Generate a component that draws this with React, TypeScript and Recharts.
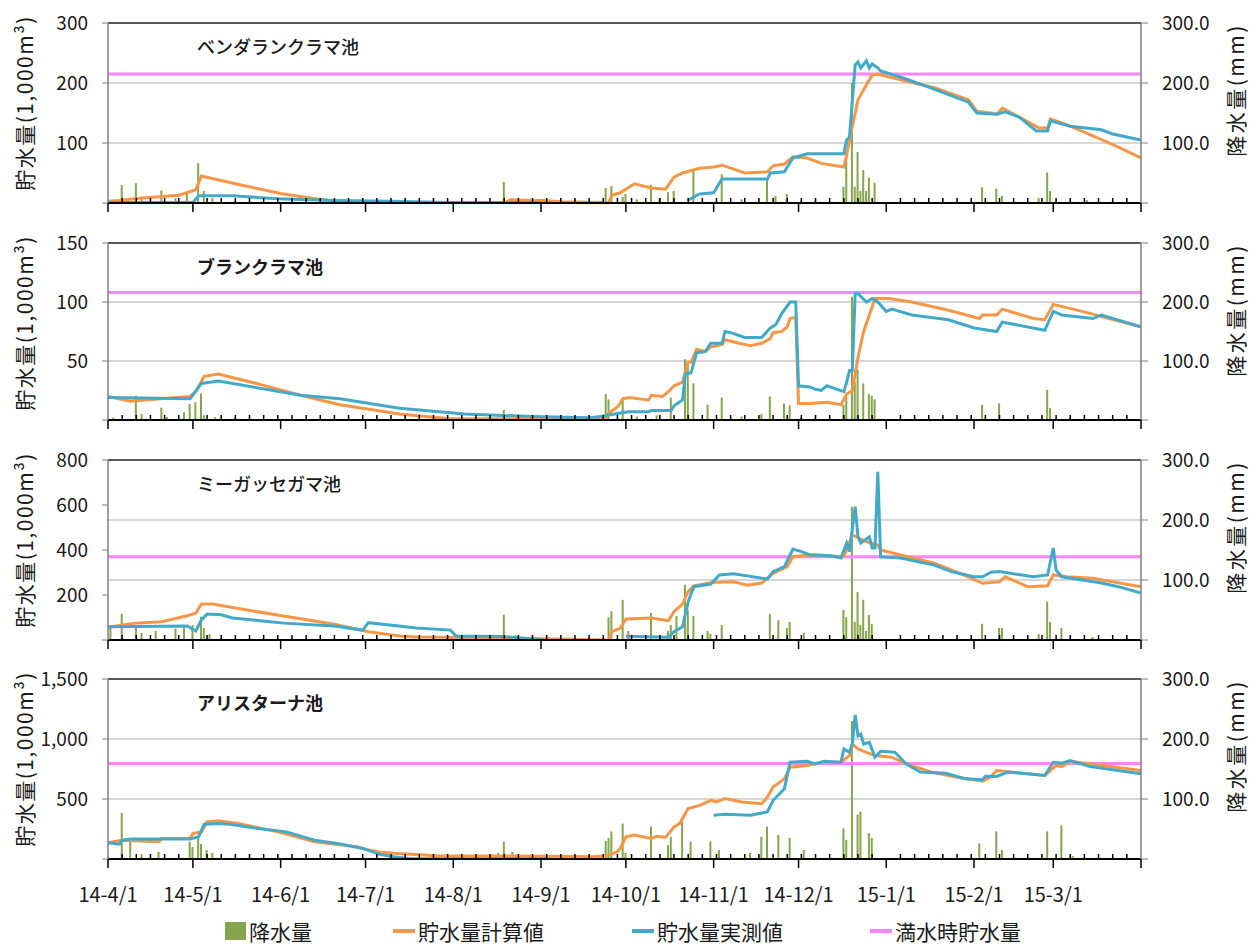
import React from 'react';
import { ComposedChart, Line, Bar, XAxis, YAxis, CartesianGrid, ReferenceLine } from 'recharts';

type Pt = [number, number | null];

const FONT = '"Noto Sans CJK JP", "Noto Sans", sans-serif';

// Day index 0 = 2014-04-01
const MONTH_TICKS = [0, 30, 61, 91, 122, 153, 183, 214, 244, 275, 306, 334, 365];
const MONTH_LABELS = ['14-4/1', '14-5/1', '14-6/1', '14-7/1', '14-8/1', '14-9/1', '14-10/1', '14-11/1', '14-12/1', '15-1/1', '15-2/1', '15-3/1', ''];
const MINOR_TICKS = Array.from({ length: 72 }, (_, i) => (i + 1) * 5).filter((d) => !MONTH_TICKS.includes(d));
const ALL_TICKS = [...MONTH_TICKS, ...MINOR_TICKS].sort((a, b) => a - b);

const PANEL_NAMES = ['ベンダランクラマ池', 'ブランクラマ池', 'ミーガッセガマ池', 'アリスターナ池'];
const LEFT_MAX = [300, 150, 800, 1500];
const LEFT_TICKS = [[0, 100, 200, 300], [0, 50, 100, 150], [0, 200, 400, 600, 800], [0, 500, 1000, 1500]];
const RIGHT_TICKS = [0, 100, 200, 300];
const FULL_STORAGE = [215, 108, 370, 795];
const LEGEND_LABELS = ['降水量', '貯水量計算値', '貯水量実測値', '満水時貯水量'];

// ---------- Panel 1: ベンダランクラマ池 ----------
const P1_CALC: Pt[] = [[0,3],[4,4],[11,8],[25,13],[29,19],[31,22],[33,45],[47,30],[61,16],[75,6],[84,2],[96,0],[140,0],[142,5],[154,4],[160,2],[177,1],[178,13],[181,17],[186,32],[192,25],[197,23],[200,43],[203,50],[209,58],[214,60],[217,63],[225,50],[233,52],[235,62],[239,65],[242,77],[247,75],[252,66],[260,60],[261,80],[263,127],[265,172],[268,197],[270,213],[272,215],[276,210],[283,202],[292,192],[304,172],[307,153],[312,150],[314,148],[316,158],[322,143],[329,125],[332,125],[333,140],[340,128],[349,110],[357,93],[365,75]];
const P1_MEAS: Pt[] = [[0,1],[30,1],[32,12],[44,12],[60,7],[80,4],[100,3],[120,1],[153,1],[154,null],[205,5],[209,15],[214,17],[216,33],[217,40],[233,40],[234,50],[239,52],[242,75],[247,82],[260,82],[261,105],[262,110],[264,230],[265,235],[266,225],[268,237],[269,225],[270,232],[272,225],[273,220],[280,210],[290,193],[304,168],[307,150],[314,148],[317,152],[322,143],[328,120],[332,120],[333,137],[340,128],[351,122],[355,115],[365,105]];
const P1_RAIN: Pt[] = [[2,5],[5,30],[10,33],[12,10],[19,21],[24,8],[28,15],[32,66],[34,20],[37,8],[45,3],[130,4],[140,35],[143,8],[176,25],[178,28],[182,10],[183,15],[187,6],[192,30],[195,8],[198,18],[200,20],[207,54],[217,48],[224,6],[233,39],[236,12],[240,15],[245,4],[250,3],[255,3],[260,27],[261,85],[263,200],[264,27],[265,85],[266,20],[267,55],[268,20],[269,42],[271,34],[300,2],[309,26],[314,24],[316,12],[329,8],[332,51],[333,20],[340,3],[346,5],[355,2]];

// ---------- Panel 2: ブランクラマ池 ----------
const P2_CALC: Pt[] = [[0,20],[8,16],[29,20],[31,24],[34,37],[39,39],[54,30],[68,21],[82,13],[103,5],[121,1],[153,1],[174,1],[176,2],[177,6],[180,11],[182,18],[184,19],[191,17],[192,21],[196,20],[198,24],[200,29],[203,32],[205,49],[206,49],[208,60],[211,58],[213,62],[217,64],[218,68],[223,65],[227,63],[231,65],[234,69],[235,74],[238,75],[240,79],[241,86],[243,87],[244,14],[248,14],[254,15],[259,13],[261,22],[263,25],[265,53],[267,75],[270,96],[271,103],[276,103],[284,100],[297,93],[308,86],[309,89],[314,89],[316,94],[327,86],[331,85],[334,98],[346,91],[352,87],[365,79]];
const P2_MEAS: Pt[] = [[0,19],[29,18],[33,31],[39,33],[68,21],[82,18],[103,10],[126,5],[150,3],[170,2],[174,3],[181,6],[184,7],[191,7],[192,8],[199,8],[200,12],[203,17],[204,39],[206,40],[208,57],[211,58],[213,65],[217,65],[218,75],[220,74],[225,70],[231,70],[234,78],[236,81],[238,90],[241,100],[243,100],[244,29],[248,28],[250,26],[252,25],[254,29],[260,24],[261,32],[262,42],[263,42],[264,107],[265,107],[268,100],[270,103],[272,100],[275,92],[277,94],[284,89],[297,85],[306,78],[314,75],[316,83],[331,76],[334,92],[337,89],[348,86],[351,89],[365,79]];
const P2_RAIN: Pt[] = [[2,4],[10,41],[12,10],[19,21],[21,5],[27,13],[29,27],[31,30],[33,45],[34,8],[38,5],[45,3],[140,17],[176,44],[177,35],[182,38],[187,6],[194,8],[199,38],[204,103],[205,95],[207,62],[212,26],[217,38],[224,6],[231,10],[234,40],[239,28],[241,25],[245,4],[250,4],[260,26],[261,40],[263,209],[264,65],[265,85],[267,62],[269,44],[270,41],[271,35],[300,3],[309,26],[315,28],[332,51],[333,20],[340,3]];

// ---------- Panel 3: ミーガッセガマ池 ----------
const P3_CALC: Pt[] = [[0,55],[5,67],[10,75],[19,81],[28,108],[31,119],[33,160],[37,160],[44,144],[62,107],[80,70],[92,37],[103,18],[109,13],[139,9],[162,3],[177,0],[178,37],[181,52],[183,93],[192,98],[198,86],[200,126],[203,160],[205,215],[207,240],[213,255],[221,259],[226,244],[231,253],[235,296],[240,326],[242,370],[248,378],[260,370],[263,467],[268,437],[272,422],[273,400],[280,378],[292,341],[304,281],[309,252],[315,259],[317,281],[325,237],[332,241],[334,289],[339,281],[348,274],[365,237]];
const P3_MEAS: Pt[] = [[0,59],[28,62],[31,40],[33,89],[35,115],[40,112],[44,98],[62,75],[80,62],[90,44],[92,77],[109,53],[121,44],[123,18],[139,16],[153,2],[154,null],[183,17],[198,12],[200,37],[203,59],[205,170],[207,237],[213,249],[216,289],[221,294],[233,271],[235,304],[239,326],[242,404],[245,393],[248,378],[251,378],[256,373],[259,364],[261,431],[262,393],[264,593],[265,459],[266,431],[269,459],[270,409],[271,409],[272,748],[273,370],[280,364],[292,333],[298,304],[306,281],[309,281],[312,301],[315,304],[327,281],[332,289],[334,409],[335,311],[337,281],[351,253],[357,237],[365,209]];
const P3_RAIN: Pt[] = [[1,20],[5,44],[10,25],[12,12],[17,15],[24,19],[27,22],[30,25],[33,39],[34,20],[36,10],[140,42],[144,8],[177,38],[178,48],[182,67],[184,15],[192,45],[198,15],[199,25],[201,40],[204,92],[205,50],[207,40],[212,15],[213,10],[217,25],[234,43],[237,33],[240,20],[241,30],[246,12],[260,50],[261,38],[263,222],[264,30],[265,80],[266,25],[267,67],[268,15],[269,42],[270,27],[309,27],[315,20],[316,20],[329,10],[332,64],[333,30],[337,20],[348,5]];

// ---------- Panel 4: アリスターナ池 ----------
const P4_CALC: Pt[] = [[0,135],[5,157],[18,144],[19,171],[29,171],[30,213],[33,226],[35,309],[39,318],[46,296],[60,226],[73,144],[88,102],[90,88],[95,61],[101,47],[116,28],[129,25],[143,25],[171,19],[176,25],[180,60],[181,88],[183,185],[186,199],[192,171],[194,190],[197,180],[200,268],[202,296],[205,420],[209,447],[213,489],[215,475],[218,503],[224,475],[231,461],[233,516],[235,599],[239,668],[241,765],[247,779],[252,806],[259,806],[262,862],[263,958],[265,917],[268,889],[271,862],[277,848],[282,793],[291,724],[300,682],[309,649],[312,688],[314,737],[331,696],[335,779],[337,770],[340,815],[365,737]];
const P4_MEAS: Pt[] = [[0,135],[4,124],[5,157],[8,166],[29,166],[32,185],[34,290],[39,296],[43,290],[53,254],[63,226],[73,157],[81,130],[90,88],[96,39],[101,19],[107,2],[155,2],[156,null],[214,365],[218,373],[227,365],[233,392],[235,489],[239,586],[241,806],[247,815],[250,793],[253,815],[259,806],[260,917],[262,889],[263,958],[264,1201],[265,1027],[266,1041],[267,958],[269,972],[271,848],[273,898],[278,889],[282,793],[287,724],[296,715],[303,668],[309,660],[310,690],[314,688],[318,724],[331,696],[334,806],[337,798],[340,820],[347,770],[365,710]];
const P4_RAIN: Pt[] = [[5,77],[8,29],[12,8],[18,12],[29,29],[30,20],[32,35],[33,25],[35,15],[37,10],[138,10],[140,29],[143,12],[176,30],[177,35],[178,46],[182,59],[183,10],[192,54],[198,23],[199,37],[203,65],[206,29],[213,29],[216,15],[227,10],[231,37],[233,54],[237,40],[241,35],[246,15],[260,51],[261,32],[263,230],[265,74],[266,79],[269,43],[270,35],[308,26],[314,46],[316,15],[332,46],[337,56],[341,5]];

const CALC = [P1_CALC, P2_CALC, P3_CALC, P4_CALC];
const MEAS = [P1_MEAS, P2_MEAS, P3_MEAS, P4_MEAS];
const RAIN = [P1_RAIN, P2_RAIN, P3_RAIN, P4_RAIN];

// layout (pixel boxes only)
const PLOT_TOP = [23, 243, 460, 679];
const PLOT_BOTTOM = [203, 420, 640, 859];
const PLOT_LEFT = 108;
const PLOT_RIGHT = 1141;
const CHART_W = 1251;
const TOP_MARGIN = 20;

const C_ORANGE = '#F79646';
const C_BLUE = '#42AAC8';
const C_PINK = '#FF85FF';
const C_GREEN = '#86A44C';
const C_TEXT = '#1a1a1a';

const toObjs = (pts: Pt[], key: string) => pts.map(([d, v]) => ({ d, [key]: v }));

function makeXTick(showLabels: boolean) {
  return (props: any) => {
    const { x, y, payload } = props;
    const v = payload.value;
    const mi = MONTH_TICKS.indexOf(v);
    if (mi >= 0) {
      return (
        <g key={`m${v}`}>
          <line x1={x} x2={x} y1={y} y2={y + 9} stroke="#000" strokeWidth={1.5} />
          {showLabels && MONTH_LABELS[mi] ? (
            <text x={x} y={y + 34} textAnchor="middle" dominantBaseline="central" fontSize={20} fill={C_TEXT} fontFamily={FONT}>
              {MONTH_LABELS[mi]}
            </text>
          ) : null}
        </g>
      );
    }
    return <line key={`n${v}`} x1={x} x2={x} y1={y} y2={y - 5} stroke="#000" strokeWidth={1.5} />;
  };
}

function Panel({ i }: { i: number }) {
  const plotH = PLOT_BOTTOM[i] - PLOT_TOP[i];
  const xH = i === 3 ? 50 : 12;
  const h = TOP_MARGIN + plotH + xH;
  const max = LEFT_MAX[i];
  const rainData = toObjs(RAIN[i], 'rain');
  const calcData = toObjs(CALC[i], 'v');
  const measData = toObjs(MEAS[i], 'v');
  const fullData = [{ d: 0, v: FULL_STORAGE[i] }, { d: 365, v: FULL_STORAGE[i] }];
  return (
    <div style={{ position: 'absolute', left: 0, top: PLOT_TOP[i] - TOP_MARGIN, width: CHART_W, height: h }}>
      <ComposedChart width={CHART_W} height={h} data={rainData} margin={{ top: TOP_MARGIN, right: 0, bottom: 0, left: 0 }}>
        <CartesianGrid yAxisId="right" vertical={false} stroke="#c9c9c9" strokeWidth={1.5} />
        <XAxis
          dataKey="d"
          type="number"
          domain={[0, 365]}
          allowDataOverflow
          ticks={ALL_TICKS}
          interval={0}
          tickSize={0}
          tickMargin={0}
          tickLine={false}
          height={xH}
          axisLine={{ stroke: '#000', strokeWidth: 2 }}
          tick={makeXTick(i === 3)}
        />
        <YAxis
          yAxisId="left"
          orientation="left"
          width={PLOT_LEFT}
          domain={[0, max]}
          allowDataOverflow
          ticks={LEFT_TICKS[i]}
          interval={0}
          tickSize={6}
          tickMargin={14}
          axisLine={{ stroke: '#7f7f7f', strokeWidth: 1.5 }}
          tickLine={{ stroke: '#7f7f7f' }}
          tick={{ fontSize: 19, fill: C_TEXT, fontFamily: FONT }}
          tickFormatter={(v: number) => (v === 0 ? '' : v.toLocaleString('en-US'))}
        />
        <YAxis
          yAxisId="right"
          orientation="right"
          width={CHART_W - PLOT_RIGHT}
          domain={[0, 300]}
          allowDataOverflow
          ticks={RIGHT_TICKS}
          interval={0}
          tickSize={7}
          tickMargin={14}
          axisLine={{ stroke: '#7f7f7f', strokeWidth: 1.5 }}
          tickLine={{ stroke: '#7f7f7f' }}
          tick={{ fontSize: 19, fill: C_TEXT, fontFamily: FONT }}
          tickFormatter={(v: number) => (v === 0 ? '' : v.toFixed(1))}
        />
        <Bar yAxisId="right" dataKey="rain" fill={C_GREEN} barSize={2} isAnimationActive={false} />
        <Line yAxisId="left" data={fullData} dataKey="v" stroke={C_PINK} strokeWidth={3} dot={false} activeDot={false} isAnimationActive={false} type="linear" />
        <Line yAxisId="left" data={calcData} dataKey="v" stroke={C_ORANGE} strokeWidth={3} dot={false} activeDot={false} isAnimationActive={false} type="linear" />
        <Line yAxisId="left" data={measData} dataKey="v" stroke={C_BLUE} strokeWidth={3} dot={false} activeDot={false} isAnimationActive={false} type="linear" connectNulls={false} />
        <ReferenceLine yAxisId="left" y={max} stroke="#595959" strokeWidth={2} />
      </ComposedChart>
    </div>
  );
}

function Titles() {
  return (
    <svg width={CHART_W} height={947} style={{ position: 'absolute', left: 0, top: 0, pointerEvents: 'none' }}>
      {PANEL_NAMES.map((name, i) => {
        const top = PLOT_TOP[i];
        const ly = top + 80;
        const ry = top + 67;
        return (
          <g key={name}>
            <text x={197} y={top + 23} dominantBaseline="central" fontSize={18} fontWeight={i === 1 || i === 3 ? 700 : 500} fill={C_TEXT} fontFamily={FONT}>
              {name}
            </text>
            <text x={24} y={ly} transform={`rotate(-90 24 ${ly})`} textAnchor="middle" dominantBaseline="central" fontSize={21} letterSpacing={1.5} fill={C_TEXT} fontFamily={FONT}>
              貯水量(1,000m³)
            </text>
            <text x={1235} y={ry} transform={`rotate(-90 1235 ${ry})`} textAnchor="middle" dominantBaseline="central" fontSize={21} letterSpacing={2.5} fill={C_TEXT} fontFamily={FONT}>
              降水量(mm)
            </text>
          </g>
        );
      })}
      {/* legend */}
      <rect x={225} y={922} width={21} height={18} fill={C_GREEN} />
      <rect x={393} y={929} width={22} height={4} fill={C_ORANGE} />
      <rect x={632} y={929} width={22} height={4} fill={C_BLUE} />
      <rect x={870} y={929} width={22} height={4} fill={C_PINK} />
      {[249, 418, 657, 895].map((lx, k) => (
        <text key={k} x={lx} y={931} dominantBaseline="central" fontSize={21} fill={C_TEXT} fontFamily={FONT}>
          {LEGEND_LABELS[k]}
        </text>
      ))}
    </svg>
  );
}

export default function App() {
  return (
    <div style={{ position: 'absolute', left: 0, top: 0, width: 1251, height: 947, background: '#fff', overflow: 'hidden' }}>
      {[0, 1, 2, 3].map((i) => (
        <Panel key={i} i={i} />
      ))}
      <Titles />
    </div>
  );
}
